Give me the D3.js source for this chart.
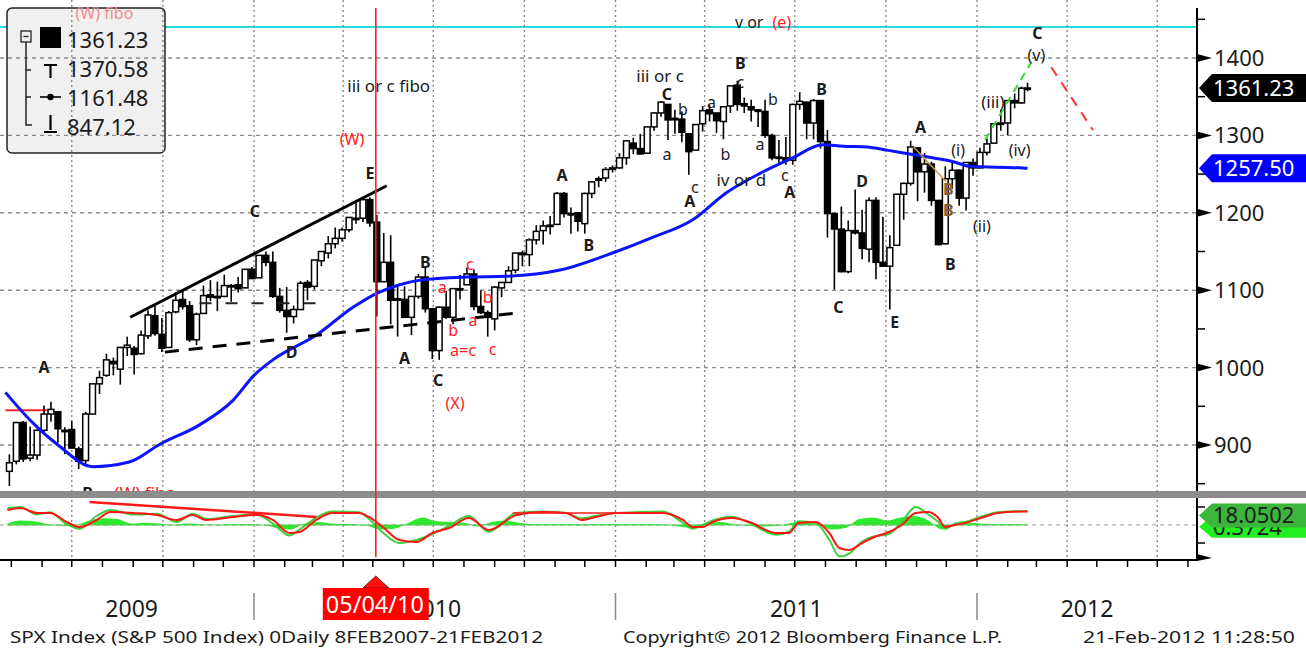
<!DOCTYPE html>
<html><head><meta charset="utf-8">
<script src="https://cdn.jsdelivr.net/npm/d3@7"></script>
<style>
body{margin:0;background:#fff;}
svg{display:block;font-family:"Noto Sans","Liberation Sans",sans-serif;}
</style></head>
<body><svg id="c" width="1306" height="652"></svg>
<script>
// ---------------- DATA ----------------
const weekDates = [
"2009-05-01","2009-05-08","2009-05-15","2009-05-22","2009-05-29","2009-06-05","2009-06-12","2009-06-19","2009-06-26","2009-07-03","2009-07-10","2009-07-17","2009-07-24","2009-07-31","2009-08-07","2009-08-14","2009-08-21","2009-08-28","2009-09-04","2009-09-11","2009-09-18","2009-09-25","2009-10-02","2009-10-09","2009-10-16","2009-10-23","2009-10-30","2009-11-06","2009-11-13","2009-11-20","2009-11-27","2009-12-04","2009-12-11","2009-12-18","2009-12-25",
"2010-01-01","2010-01-08","2010-01-15","2010-01-22","2010-01-29","2010-02-05","2010-02-12","2010-02-19","2010-02-26","2010-03-05","2010-03-12","2010-03-19","2010-03-26","2010-04-02","2010-04-09","2010-04-16","2010-04-23","2010-04-30","2010-05-07","2010-05-14","2010-05-21","2010-05-28","2010-06-04","2010-06-11","2010-06-18","2010-06-25","2010-07-02","2010-07-09","2010-07-16","2010-07-23","2010-07-30","2010-08-06","2010-08-13","2010-08-20","2010-08-27","2010-09-03","2010-09-10","2010-09-17","2010-09-24","2010-10-01","2010-10-08","2010-10-15","2010-10-22","2010-10-29","2010-11-05","2010-11-12","2010-11-19","2010-11-26","2010-12-03","2010-12-10","2010-12-17","2010-12-24","2010-12-31",
"2011-01-07","2011-01-14","2011-01-21","2011-01-28","2011-02-04","2011-02-11","2011-02-18","2011-02-25","2011-03-04","2011-03-11","2011-03-18","2011-03-25","2011-04-01","2011-04-08","2011-04-15","2011-04-22","2011-04-29","2011-05-06","2011-05-13","2011-05-20","2011-05-27","2011-06-03","2011-06-10","2011-06-17","2011-06-24","2011-07-01","2011-07-08","2011-07-15","2011-07-22","2011-07-29","2011-08-05","2011-08-12","2011-08-19","2011-08-26","2011-09-02","2011-09-09","2011-09-16","2011-09-23","2011-09-30","2011-10-07","2011-10-14","2011-10-21","2011-10-28","2011-11-04","2011-11-11","2011-11-18","2011-11-25","2011-12-02","2011-12-09","2011-12-16","2011-12-23","2011-12-30",
"2012-01-06","2012-01-13","2012-01-20","2012-01-27","2012-02-03","2012-02-10","2012-02-17","2012-02-21"];
const weekOpen = [
866,879,929,883,887,919,940,943,919,920,895,880,940,979,990,1008,998,1026,1025,1018,1041,1067,1043,1026,1072,1088,1080,1036,1070,1094,1092,1092,1106,1107,1103,
1127,1116,1145,1136,1092,1074,1066,1075,1110,1105,1138,1148,1160,1167,1178,1193,1193,1217,1188,1111,1136,1087,1088,1065,1092,1117,1076,1022,1078,1065,1102,1107,1121,1079,1071,1063,1103,1110,1126,1148,1146,1165,1177,1184,1185,1225,1198,1200,1186,1225,1242,1245,1257,
1258,1271,1290,1283,1277,1311,1329,1340,1322,1321,1302,1281,1315,1333,1329,1318,1338,1365,1341,1337,1333,1331,1300,1271,1271,1268,1340,1343,1316,1345,1292,1199,1179,1124,1177,1174,1153,1216,1136,1131,1158,1224,1238,1284,1253,1263,1216,1160,1244,1255,1219,1265,
1258,1278,1290,1315,1316,1345,1342,1361];
const weekHigh = [
888,930,931,924,920,951,956,944,923,931,898,943,979,996,1018,1013,1027,1040,1028,1048,1074,1080,1064,1073,1097,1101,1086,1071,1106,1113,1111,1120,1108,1117,1127,
1130,1145,1150,1150,1103,1104,1080,1112,1113,1139,1150,1170,1181,1181,1194,1214,1217,1220,1197,1174,1171,1107,1105,1092,1121,1131,1077,1079,1099,1103,1120,1129,1127,1100,1074,1105,1110,1131,1148,1151,1167,1184,1190,1196,1227,1227,1207,1200,1226,1241,1247,1259,1261,
1277,1293,1297,1302,1311,1330,1344,1340,1333,1331,1302,1314,1338,1339,1329,1338,1364,1370.58,1349,1346,1334,1346,1302,1294,1298,1341,1356,1343,1347,1345,1307,1199,1208,1190,1230,1204,1220,1220,1195,1171,1224,1239,1293,1284,1277,1266,1216,1260,1267,1256,1265,1270,
1284,1296,1315,1333,1345,1354,1363,1368];
const weekLow = [
847.12,875,878,879,881,916,930,903,888,896,869,875,940,966,988,990,978,1015,991,1017,1037,1041,1020,1026,1070,1075,1033,1029,1070,1086,1073,1091,1085,1097,1103,
1115,1116,1131,1090,1071,1045,1057,1075,1087,1101,1131,1141,1154,1163,1175,1186,1188,1182,1066,1111,1056,1040,1064,1042,1089,1071,1011,1010,1063,1056,1088,1107,1074,1069,1040,1048,1091,1110,1122,1131,1131,1159,1159,1172,1185,1194,1173,1176,1173,1219,1233,1240,1252,
1257,1262,1276,1276,1276,1306,1324,1294,1302,1291,1249,1281,1305,1318,1303,1295,1329,1332,1329,1318,1311,1297,1268,1262,1262,1262,1333,1295,1295,1283,1168,1101,1123,1122,1172,1140,1136,1114,1131,1075,1158,1191,1235,1215,1226,1209,1158,1159,1231,1209,1203,1248,
1258,1274,1290,1306,1300,1335,1341,1357];
const weekClose = [
877,929,882,887,919,940,946,921,918,896,879,940,979,987,1010,1005,1026,1029,1017,1042,1068,1044,1025,1071,1087,1079,1036,1069,1093,1091,1091,1106,1106,1102,1127,
1115,1145,1136,1092,1074,1066,1075,1109,1104,1139,1150,1160,1167,1178,1194,1192,1217,1187,1111,1136,1087,1089,1065,1092,1117,1076,1022,1078,1065,1102,1101,1121,1079,1071,1065,1104,1110,1125,1148,1146,1165,1176,1183,1183,1225,1199,1199,1189,1225,1240,1244,1256,1258,
1271,1293,1283,1276,1311,1329,1343,1320,1321,1304,1279,1314,1332,1328,1319,1337,1364,1340,1338,1333,1331,1300,1271,1272,1268,1340,1344,1316,1345,1292,1199,1179,1124,1177,1174,1154,1216,1136,1131,1155,1224,1238,1285,1253,1263,1216,1159,1244,1255,1219,1265,1258,
1278,1289,1315,1316,1345,1342,1361,1361.23];

// moving average (blue)
const maDates = ["2009-04-25","2009-05-20","2009-06-19","2009-07-22","2009-08-28","2009-09-28","2009-11-07","2009-12-11","2010-01-01","2010-01-20","2010-03-05","2010-04-11","2010-05-05","2010-05-28","2010-06-18","2010-08-04","2010-09-13","2010-11-06","2011-01-02","2011-02-05","2011-03-20","2011-04-23","2011-05-27","2011-06-29","2011-07-29","2011-08-19","2011-09-12","2011-10-02","2011-10-25","2011-11-17","2011-12-08","2011-12-25","2012-02-16","2012-02-21"];
const maValues = [968,932,898,872,878,901,926,958,990,1010,1042,1078,1096,1107,1113,1117,1118,1126,1150,1167,1191,1226,1251,1271,1288,1286,1285,1281,1276,1271,1266,1260,1258,1257.5];

// lower panel oscillator
const oscDates = ["2009-04-27","2009-05-10","2009-05-27","2009-06-09","2009-06-26","2009-07-09","2009-07-26","2009-08-09","2009-09-01","2009-09-25","2009-10-15","2009-10-31","2009-11-14","2009-12-11","2010-01-04","2010-01-20","2010-02-06","2010-02-16","2010-03-05","2010-03-21","2010-04-17","2010-04-27","2010-05-11","2010-05-28","2010-06-14","2010-06-30","2010-07-17","2010-08-06","2010-08-26","2010-09-23","2010-10-19","2010-11-12","2010-11-28","2010-12-12","2011-01-02","2011-02-18","2011-03-10","2011-03-20","2011-03-30","2011-04-09","2011-04-29","2011-05-16","2011-06-12","2011-06-25","2011-07-05","2011-07-22","2011-08-05","2011-08-15","2011-08-25","2011-09-07","2011-09-17","2011-10-04","2011-10-17","2011-10-31","2011-11-13","2011-11-23","2011-11-30","2011-12-10","2011-12-20","2012-01-05","2012-01-22","2012-02-15","2012-02-21"];
const oscRed = [20,22.7,16,16,4,-2.7,6.7,17.3,16,13.3,6.7,13.3,6.7,10.7,13.3,6.7,-10.7,-9.3,6.7,16,16,10.7,-2.7,-20,-22.7,-10.7,-4,9.3,-6.7,13.3,17.3,16,6.7,10.7,16,16,6.7,-2.7,-2.7,4,9.3,4,-10.7,-10.7,2.7,4,-10.7,-30.7,-33.3,-24,-17.3,-9.3,0,16,17.3,9.3,-2.7,0,2.7,9.3,16,18,18.05];
const oscGreen = [22,24,14,17,1,-5,12,20,14,15,4,15,8,12,14,2,-14,-6,10,18,17,8,-10,-24,-20,-12,-1,12,-9,16,18,16,9,12,16,18,3,-5,0,6,11,3,-13,-9,5,3,-20,-42,-38,-22,-16,-12,4,24,14,4,-5,2,4,11,17,18.5,18.4];
const histDates = ["2009-04-27","2009-05-10","2009-05-24","2009-06-07","2009-06-21","2009-07-05","2009-07-19","2009-08-02","2009-08-16","2009-08-30","2009-09-13","2009-09-27","2009-10-11","2009-10-25","2009-11-08","2009-11-22","2009-12-06","2009-12-20","2010-01-10","2010-01-24","2010-02-07","2010-02-21","2010-03-07","2010-03-21","2010-04-11","2010-04-25","2010-05-09","2010-05-23","2010-06-06","2010-06-20","2010-07-04","2010-07-18","2010-08-01","2010-08-15","2010-08-29","2010-09-12","2010-09-26","2010-10-10","2010-11-14","2010-12-12","2011-01-02","2011-02-13","2011-03-06","2011-03-20","2011-04-03","2011-04-17","2011-05-01","2011-05-29","2011-06-19","2011-07-03","2011-07-24","2011-08-07","2011-08-21","2011-09-04","2011-09-18","2011-10-02","2011-10-16","2011-10-30","2011-11-13","2011-11-27","2011-12-11","2011-12-25","2012-01-15","2012-02-05","2012-02-21"];
const histValues = [2,6,5,1,-1,0,6,9,8,2,3,2,0,2,1,0,1,1,0,-4,-6,2,4,2,1,-1,-6,-5,3,10,5,4,3,-2,4,6,3,1,1,1,1,1,-2,-4,3,4,1,-2,0,4,1,-6,-4,8,10,6,10,12,6,-6,2,3,1,1,0.3724];

const priceTicks = [900,1000,1100,1200,1300,1400];
const yearLabels = ["2009","2010","2011","2012"];
const legendValues = ["1361.23","1370.58","1161.48","847.12"];
const lastPrice = 1361.23, lastMA = 1257.50, oscLast = 18.0502, histLast = 0.3724;
const cyanLevel = 1440;
const markerDate = "2010-05-04", markerLabel = "05/04/10";
const footerLeft = "SPX Index (S&P 500 Index) 0Daily 8FEB2007-21FEB2012";
const footerMid = "Copyright\u00A9 2012 Bloomberg Finance L.P.";
const footerRight = "21-Feb-2012 11:28:50";

// wave labels: [date, price, text]
const blackLabels = [
["2009-06-03",1000,"A"],["2010-01-02",1202,"C"],["2010-04-28",1251,"E"],["2010-02-08",1019,"D"],
["2010-05-17",1364,"iii or c fibo"],["2010-06-23",1136,"B"],["2010-06-02",1012,"A"],["2010-07-06",984,"C"],
["2010-11-08",1248,"A"],["2010-12-05",1158,"B"],["2011-02-15",1377,"iii or c"],["2011-02-22",1353,"C"],
["2011-03-10",1333,"b"],["2011-02-22",1276,"a"],["2011-03-22",1233,"c"],["2011-03-17",1215,"A"],
["2011-04-08",1342,"a"],["2011-04-22",1276,"b"],["2011-05-07",1393,"B"],["2011-05-07",1369,"c"],
["2011-05-16",1446.5,"v or"],["2011-06-09",1346,"b"],["2011-05-27",1288,"a"],["2011-05-08",1242,"iv or d"],
["2011-06-21",1248,"c"],["2011-06-26",1226,"A"],["2011-07-28",1359,"B"],["2011-09-07",1240,"D"],
["2011-08-14",1078,"C"],["2011-10-10",1059,"E"],["2011-11-05",1310,"A"],["2011-12-05",1133,"B"],
["2011-12-13",1281,"(i)"],["2012-01-06",1182,"(ii)"],["2012-01-17",1343,"(iii)"],["2012-02-13",1281,"(iv)"],
["2012-03-01",1404,"(v)"],["2012-03-02",1432,"C"],["2009-07-17",838,"B"]];
const redLabels = [
["2010-04-10",1295,"(W)"],["2010-07-23",954,"(X)"],["2010-07-10",1104,"a"],["2010-08-07",1133,"c"],
["2010-08-25",1091,"b"],["2010-08-10",1061,"a"],["2010-07-21",1048,"b"],["2010-07-31",1022,"a=c"],
["2010-08-30",1023,"c"],["2011-06-18",1446.5,"(e)"],["2009-09-13",838,"(W) fibo"]];
const brownLabels = [["2011-12-03",1230,"B"],["2011-12-03",1203,"B"]];
const fadedLabel = ["2009-08-03",1457,"(W) fibo"];

// drawn lines: [date1, value1, date2, value2]
const solidTrend = ["2009-08-29",1065,"2010-05-15",1235];
const dashedTrend = ["2009-10-03",1020,"2010-09-24",1070.5];
const dashedFlat = ["2009-11-07",1083,"2010-03-08",1083];
const redLevel = ["2009-04-25",945,"2009-06-09",945];
const tanLine = ["2011-10-29",1285,"2011-12-01",1240];
const greenProj = ["2012-01-09",1294,"2012-02-25",1395];
const redProj = ["2012-03-16",1388,"2012-04-27",1307];
const oscTrend = ["2009-07-19",30.7,"2010-03-05",10.7];
const oscFlat = ["2010-09-19",16,"2011-02-02",16];

// ---------------- CHART ----------------
const P = d3.timeParse("%Y-%m-%d");
const svg = d3.select("#c");
const R = 1197, TOP = 8, BAND0 = 491, BAND1 = 498, BOT = 560;
const x = d3.scaleTime().domain([new Date(2010,0,1), new Date(2012,0,1)]).range([254,977]);
const y = d3.scaleLinear().domain([900,1400]).range([445,58]);
const yo = d3.scaleLinear().domain([-47.3,36]).range([560.5,498]);

const defs = svg.append("defs");
defs.append("clipPath").attr("id","cm").append("rect").attr("x",0).attr("y",0).attr("width",R).attr("height",BAND0);
defs.append("clipPath").attr("id","co").append("rect").attr("x",0).attr("y",BAND1).attr("width",R).attr("height",BOT-BAND1);

svg.append("rect").attr("width",1306).attr("height",652).attr("fill","#fff");

// cyan level
svg.append("line").attr("x1",0).attr("x2",R).attr("y1",y(cyanLevel)).attr("y2",y(cyanLevel))
  .attr("stroke","#22dddd").attr("stroke-width",2);

// legend box
svg.append("rect").attr("x",7).attr("y",8).attr("width",158).attr("height",145).attr("rx",5)
  .attr("fill","#f0f0f0").attr("stroke","#222").attr("stroke-width",1.5);

// faded label under legend
svg.append("text").attr("x",x(P(fadedLabel[0]))).attr("y",y(fadedLabel[1])).attr("dy","0.35em")
  .attr("text-anchor","middle").attr("font-size",16).attr("fill","#f08c8c").text(fadedLabel[2]);

// grid
const grid = svg.append("g");
d3.timeMonth.every(3).range(new Date(2009,6,1), new Date(2012,7,1)).forEach(d=>{
  const xx = x(d); if (xx > R-5) return;
  grid.append("line").attr("x1",xx).attr("x2",xx).attr("y1",0).attr("y2",BOT)
    .attr("stroke","#8a8a8a").attr("stroke-width",1.4).attr("stroke-dasharray","2,3");
});
priceTicks.forEach(p=>{
  grid.append("line").attr("x1",0).attr("x2",R).attr("y1",y(p)).attr("y2",y(p))
    .attr("stroke","#8a8a8a").attr("stroke-width",1.4).attr("stroke-dasharray","4,4");
});

// main panel
const main = svg.append("g").attr("clip-path","url(#cm)");
const seg = (g, a, sc, st, w, dash) => g.append("line")
  .attr("x1",x(P(a[0]))).attr("y1",sc(a[1])).attr("x2",x(P(a[2]))).attr("y2",sc(a[3]))
  .attr("stroke",st).attr("stroke-width",w).attr("stroke-dasharray",dash||null);

seg(main, redLevel, y, "#ff2020", 2);

// candles
const bars = weekDates.map((d,i)=>{
  let dt = P(d); if (dt.getDay()===5) dt = d3.timeDay.offset(dt,-2);
  return {dt, o:weekOpen[i], h:weekHigh[i], l:weekLow[i], c:weekClose[i]};
});
const cg = main.append("g");
bars.forEach(b=>{
  const xx = x(b.dt);
  cg.append("line").attr("x1",xx).attr("x2",xx).attr("y1",y(b.h)).attr("y2",y(b.l))
    .attr("stroke","#000").attr("stroke-width",1.6);
  const top = y(Math.max(b.o,b.c)), bot = y(Math.min(b.o,b.c));
  cg.append("rect").attr("x",xx-2.9).attr("width",5.8).attr("y",top).attr("height",Math.max(1.4,bot-top))
    .attr("fill", b.c>=b.o ? "#fff" : "#000").attr("stroke","#000").attr("stroke-width",1.5);
});

// moving average
main.append("path").datum(maDates.map((d,i)=>[x(P(d)), y(maValues[i])]))
  .attr("d", d3.line().curve(d3.curveMonotoneX))
  .attr("fill","none").attr("stroke","#0a14ff").attr("stroke-width",3);

// trend lines
seg(main, solidTrend, y, "#000", 3);
seg(main, dashedTrend, y, "#000", 3, "14,10");
seg(main, dashedFlat, y, "#222", 2, "12,14");
seg(main, tanLine, y, "#c89a5a", 1.5);
seg(main, greenProj, y, "#33dd33", 2, "8,6");
seg(main, redProj, y, "#ff3030", 2, "10,8");

// labels
const lab = (arr, col) => arr.forEach(a=>{
  const single = /^[A-E]$/.test(a[2]);
  const multi = a[2].length > 4;
  main.append("text").attr("x",x(P(a[0]))).attr("y",y(a[1])).attr("dy","0.35em")
    .attr("text-anchor","middle").attr("font-size", multi ? 17 : 16)
    .attr("font-weight", single ? "bold" : "normal")
    .attr("fill",col).text(a[2]);
});
lab(blackLabels, "#1b1b1b");
lab(redLabels, "#ff1a1a");
lab(brownLabels, "#8a5a2a");

// gray separator band
svg.append("rect").attr("x",0).attr("y",BAND0).attr("width",1306).attr("height",BAND1-BAND0).attr("fill","#8c8c8c");

// lower panel
const low = svg.append("g").attr("clip-path","url(#co)");
low.append("line").attr("x1",0).attr("x2",R).attr("y1",yo(0)).attr("y2",yo(0)).attr("stroke","#999").attr("stroke-dasharray","4,4");
low.append("path").datum(histDates.map((d,i)=>({d:P(d),v:histValues[i]})))
  .attr("d", d3.area().x(d=>x(d.d)).y0(yo(0)).y1(d=>yo(d.v)).curve(d3.curveMonotoneX))
  .attr("fill","#2ee82e");
low.append("line").attr("x1",x(P(oscDates[0]))).attr("x2",x(P(oscDates[oscDates.length-1]))).attr("y1",yo(0)).attr("y2",yo(0)).attr("stroke","#55cc55").attr("stroke-width",1);
const oline = d3.line().x(d=>x(d.d)).y(d=>yo(d.v)).curve(d3.curveMonotoneX);
low.append("path").datum(oscDates.map((d,i)=>({d:P(d),v:oscGreen[i]}))).attr("d",oline)
  .attr("fill","none").attr("stroke","#3ccf3c").attr("stroke-width",2);
low.append("path").datum(oscDates.map((d,i)=>({d:P(d),v:oscRed[i]}))).attr("d",oline)
  .attr("fill","none").attr("stroke","#ff1414").attr("stroke-width",2);
seg(low, oscTrend, yo, "#ff1a1a", 2.5);
seg(low, oscFlat, yo, "#ff1a1a", 1.5);

// red vertical marker line
const mx = x(P(markerDate));
svg.append("line").attr("x1",mx).attr("x2",mx).attr("y1",TOP).attr("y2",557).attr("stroke","#ff2020").attr("stroke-width",1.6);

// right axis
const ax = svg.append("g");
ax.append("line").attr("x1",R).attr("x2",R).attr("y1",TOP).attr("y2",BAND0).attr("stroke","#000").attr("stroke-width",2);
ax.append("line").attr("x1",R).attr("x2",R).attr("y1",BAND1).attr("y2",BOT).attr("stroke","#000").attr("stroke-width",2);
d3.range(850,1451,50).forEach(p=>{
  const yy = y(p);
  if (p%100===0) ax.append("path").attr("d",`M${R},${yy-4}L${R+15},${yy}L${R},${yy+4}Z`).attr("fill","#000");
  else ax.append("line").attr("x1",R).attr("x2",R+8).attr("y1",yy).attr("y2",yy).attr("stroke","#000").attr("stroke-width",1.5);
});
priceTicks.forEach(p=>{
  ax.append("text").attr("x",R+17).attr("y",y(p)).attr("dy","0.36em").attr("font-size",22).attr("fill","#1b1b1b").text(p);
});
[24,-24].forEach(v=>ax.append("line").attr("x1",R).attr("x2",R+8).attr("y1",yo(v)).attr("y2",yo(v)).attr("stroke","#000").attr("stroke-width",1.5));
ax.append("path").attr("d",`M${R},${BOT-6}L${R+15},${BOT-2}L${R},${BOT+1}Z`).attr("fill","#000");

// bottom axis
ax.append("line").attr("x1",0).attr("x2",R).attr("y1",BOT).attr("y2",BOT).attr("stroke","#000").attr("stroke-width",2);
d3.timeMonth.range(new Date(2009,4,1), new Date(2012,8,1)).forEach(d=>{
  const xx = x(d); if (xx > R) return;
  ax.append("line").attr("x1",xx).attr("x2",xx).attr("y1",BOT).attr("y2",BOT+7).attr("stroke","#000").attr("stroke-width",1.5);
});

// tags
const tag = (yy, txt, fill, tcol, h) => {
  ax.append("path").attr("d",`M${R+2},${yy}L${R+15},${yy-h}L1306,${yy-h}L1306,${yy+h}L${R+15},${yy+h}Z`).attr("fill",fill);
  ax.append("text").attr("x",R+16).attr("y",yy).attr("dy","0.36em").attr("font-size",22).attr("fill",tcol).text(txt);
};
tag(y(lastPrice), d3.format(".2f")(lastPrice), "#000", "#fff", 14);
tag(y(lastMA), d3.format(".2f")(lastMA), "#0000ff", "#fff", 14);
tag(yo(histLast)+2, d3.format(".4f")(histLast), "#22ee22", "#1b1b1b", 11);
tag(yo(oscLast)+4, d3.format(".4f")(oscLast), "#3bb53b", "#1b1b1b", 12);

// year labels
const yb = [x(bars[0].dt), x(new Date(2010,0,1)), x(new Date(2011,0,1)), x(new Date(2012,0,1)), R];
yearLabels.forEach((t,i)=>{
  ax.append("text").attr("x",(yb[i]+yb[i+1])/2).attr("y",617).attr("text-anchor","middle")
    .attr("font-size",23).attr("fill","#1b1b1b").text(t);
});
[1,2,3].forEach(i=>ax.append("line").attr("x1",yb[i]).attr("x2",yb[i]).attr("y1",593).attr("y2",620).attr("stroke","#8a8a8a").attr("stroke-width",1.5));

// date marker
ax.append("path").attr("d",`M${mx-13},588L${mx},576L${mx+13},588Z`).attr("fill","#ff1010").attr("stroke","#600").attr("stroke-width",0.8);
ax.append("rect").attr("x",mx-53).attr("y",588).attr("width",106).attr("height",32).attr("fill","#ff0000");
ax.append("text").attr("x",mx-50).attr("y",613).attr("font-size",23).attr("fill","#fff")
  .attr("textLength",98).attr("lengthAdjust","spacingAndGlyphs").text(markerLabel);

// footer
const foot = (xx, txt, len) => ax.append("text").attr("x",xx).attr("y",643).attr("font-size",17).attr("fill","#1b1b1b")
  .attr("textLength",len).attr("lengthAdjust","spacingAndGlyphs").text(txt);
foot(10, footerLeft, 533);
foot(623, footerMid, 379);
foot(1083, footerRight, 212);

// legend contents
const lg = svg.append("g");
lg.append("rect").attr("x",21).attr("y",31).attr("width",10).attr("height",11).attr("fill","#eee").attr("stroke","#222").attr("stroke-width",1.3);
lg.append("line").attr("x1",23.5).attr("x2",28.5).attr("y1",36.5).attr("y2",36.5).attr("stroke","#222").attr("stroke-width",1.3);
lg.append("path").attr("d","M26,42V125H32M26,70H31M26,97H31").attr("fill","none").attr("stroke","#222").attr("stroke-width",1.5);
lg.append("rect").attr("x",40).attr("y",27).attr("width",21).attr("height",21).attr("fill","#000");
lg.append("path").attr("d","M44,65H57M50.5,65V78").attr("stroke","#000").attr("stroke-width",2.2).attr("fill","none");
lg.append("path").attr("d","M40,97H61").attr("stroke","#000").attr("stroke-width",1.6);
lg.append("circle").attr("cx",50.5).attr("cy",97).attr("r",3.2).attr("fill","#000");
lg.append("path").attr("d","M50.5,115V130M44,132H57").attr("stroke","#000").attr("stroke-width",2.2).attr("fill","none");
legendValues.forEach((t,i)=>{
  lg.append("text").attr("x",67).attr("y",[48,77,106,135][i]).attr("font-size",22).attr("fill","#1b1b1b").text(t);
});
</script>
</body></html>
